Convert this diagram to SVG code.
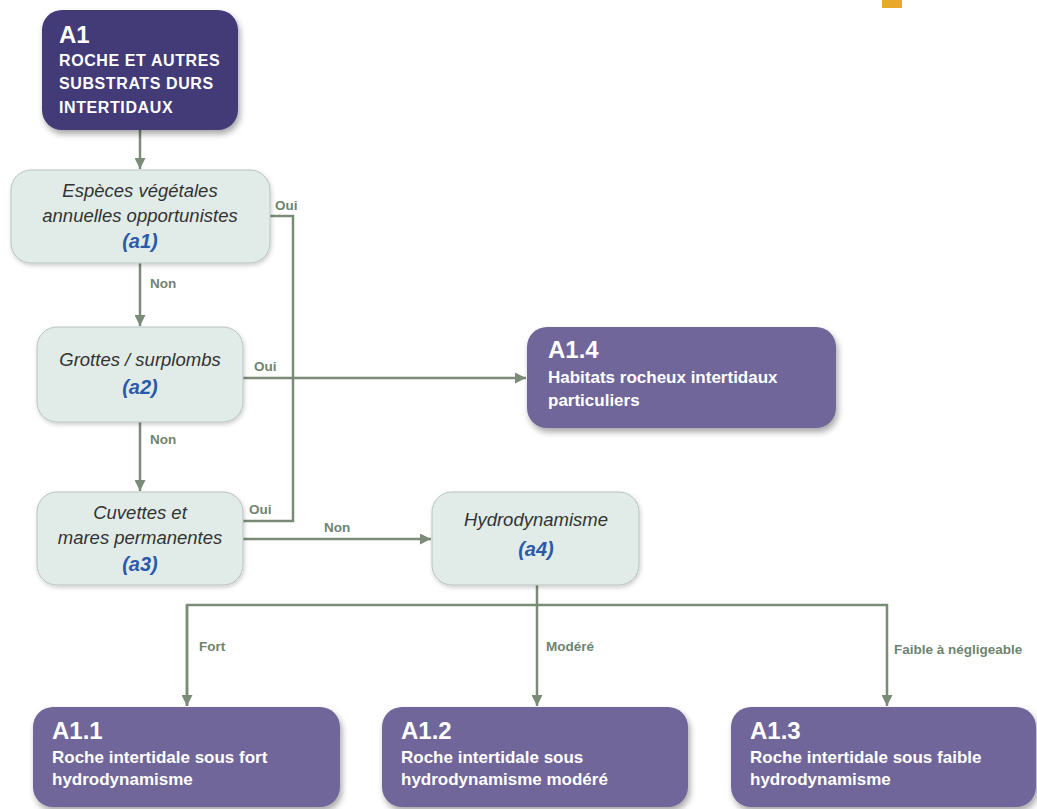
<svg xmlns="http://www.w3.org/2000/svg" width="1037" height="809" viewBox="0 0 1037 809">
<style>
.q{fill:#e1ece8;stroke:#b9c4c0;stroke-width:1}
.h{fill:#6f6699}
.qt{font-family:"Liberation Sans",Arial,sans-serif;font-style:italic;font-size:18.5px;fill:#333;text-anchor:middle}
.qc{font-family:"Liberation Sans",Arial,sans-serif;font-style:italic;font-weight:bold;font-size:20px;fill:#2a5aa8;text-anchor:middle}
.hc{font-family:"Liberation Sans",Arial,sans-serif;font-weight:bold;font-size:24px;fill:#fff}
.ht{font-family:"Liberation Sans",Arial,sans-serif;font-weight:bold;font-size:17px;fill:#fff}
.hu{font-family:"Liberation Sans",Arial,sans-serif;font-weight:bold;font-size:16px;fill:#fff;letter-spacing:0.6px}
.lb{font-family:"Liberation Sans",Arial,sans-serif;font-weight:bold;font-size:13.5px;fill:#6f8470}
.c{fill:none;stroke:#7a8c78;stroke-width:2.5}
</style>
<defs>
<filter id="sh" x="-10%" y="-10%" width="125%" height="135%">
<feDropShadow dx="2" dy="4" stdDeviation="3" flood-color="#000" flood-opacity="0.35"/>
</filter>
<filter id="sl" x="-10%" y="-10%" width="125%" height="135%">
<feDropShadow dx="1" dy="2" stdDeviation="2" flood-color="#000" flood-opacity="0.2"/>
</filter>
<marker id="ar" viewBox="0 0 10 10" refX="10" refY="5" markerWidth="4.4" markerHeight="4.4" orient="auto" markerUnits="strokeWidth">
<path d="M0,0 L10,5 L0,10 z" fill="#7a8c78"/>
</marker>
</defs>
<rect x="882" y="0" width="20" height="8" fill="#e8a92a"/>
<g id="connectors">
<path class="c" d="M140,130 V169" marker-end="url(#ar)"/>
<path class="c" d="M140,263 V326" marker-end="url(#ar)"/>
<path class="c" d="M140,422 V491" marker-end="url(#ar)"/>
<path class="c" d="M270,216 H293 V521 H243"/>
<path class="c" d="M243,378 H526" marker-end="url(#ar)"/>
<path class="c" d="M243,539 H431" marker-end="url(#ar)"/>
<path class="c" d="M537,585 V706" marker-end="url(#ar)"/>
<path class="c" d="M187,706 V605 H887 V706" marker-end="url(#ar)"/>
<path class="c" d="M187,605 V706" marker-end="url(#ar)"/>
<text class="lb" x="275" y="210">Oui</text>
<text class="lb" x="150" y="288">Non</text>
<text class="lb" x="254" y="371">Oui</text>
<text class="lb" x="150" y="444">Non</text>
<text class="lb" x="249" y="514">Oui</text>
<text class="lb" x="324" y="532">Non</text>
<text class="lb" x="199" y="651">Fort</text>
<text class="lb" x="546" y="651">Modéré</text>
<text class="lb" x="894" y="654">Faible à négligeable</text>
</g>
<g id="A1">
<rect x="42" y="10" width="196" height="120" rx="20" fill="#423a78" filter="url(#sh)"/>
<text class="hc" x="59" y="43">A1</text>
<text class="hu" x="59" y="66">ROCHE ET AUTRES</text>
<text class="hu" x="59" y="89">SUBSTRATS DURS</text>
<text class="hu" x="59" y="113">INTERTIDAUX</text>
</g>
<g id="a1">
<rect class="q" x="11" y="170" width="259" height="93" rx="20" filter="url(#sl)"/>
<text class="qt" x="140" y="197">Espèces végétales</text>
<text class="qt" x="140" y="222">annuelles opportunistes</text>
<text class="qc" x="140" y="248">(a1)</text>
</g>
<g id="a2">
<rect class="q" x="37" y="327" width="206" height="95" rx="20" filter="url(#sl)"/>
<text class="qt" x="140" y="366">Grottes / surplombs</text>
<text class="qc" x="140" y="394">(a2)</text>
</g>
<g id="a3">
<rect class="q" x="37" y="492" width="206" height="93" rx="20" filter="url(#sl)"/>
<text class="qt" x="140" y="519">Cuvettes et</text>
<text class="qt" x="140" y="544">mares permanentes</text>
<text class="qc" x="140" y="571">(a3)</text>
</g>
<g id="a4">
<rect class="q" x="432" y="492" width="207" height="93" rx="20" filter="url(#sl)"/>
<text class="qt" x="536" y="526">Hydrodynamisme</text>
<text class="qc" x="536" y="556">(a4)</text>
</g>
<g id="A1.4">
<rect class="h" x="527" y="327" width="309" height="101" rx="20" filter="url(#sh)"/>
<text class="hc" x="548" y="358">A1.4</text>
<text class="ht" x="548" y="383">Habitats rocheux intertidaux</text>
<text class="ht" x="548" y="406">particuliers</text>
</g>
<g id="A1.1">
<rect class="h" x="33" y="707" width="307" height="100" rx="20" filter="url(#sh)"/>
<text class="hc" x="52" y="739">A1.1</text>
<text class="ht" x="52" y="763">Roche intertidale sous fort</text>
<text class="ht" x="52" y="785">hydrodynamisme</text>
</g>
<g id="A1.2">
<rect class="h" x="382" y="707" width="306" height="100" rx="20" filter="url(#sh)"/>
<text class="hc" x="401" y="739">A1.2</text>
<text class="ht" x="401" y="763">Roche intertidale sous</text>
<text class="ht" x="401" y="785">hydrodynamisme modéré</text>
</g>
<g id="A1.3">
<rect class="h" x="731" y="707" width="305" height="100" rx="20" filter="url(#sh)"/>
<text class="hc" x="750" y="739">A1.3</text>
<text class="ht" x="750" y="763">Roche intertidale sous faible</text>
<text class="ht" x="750" y="785">hydrodynamisme</text>
</g>
</svg>
